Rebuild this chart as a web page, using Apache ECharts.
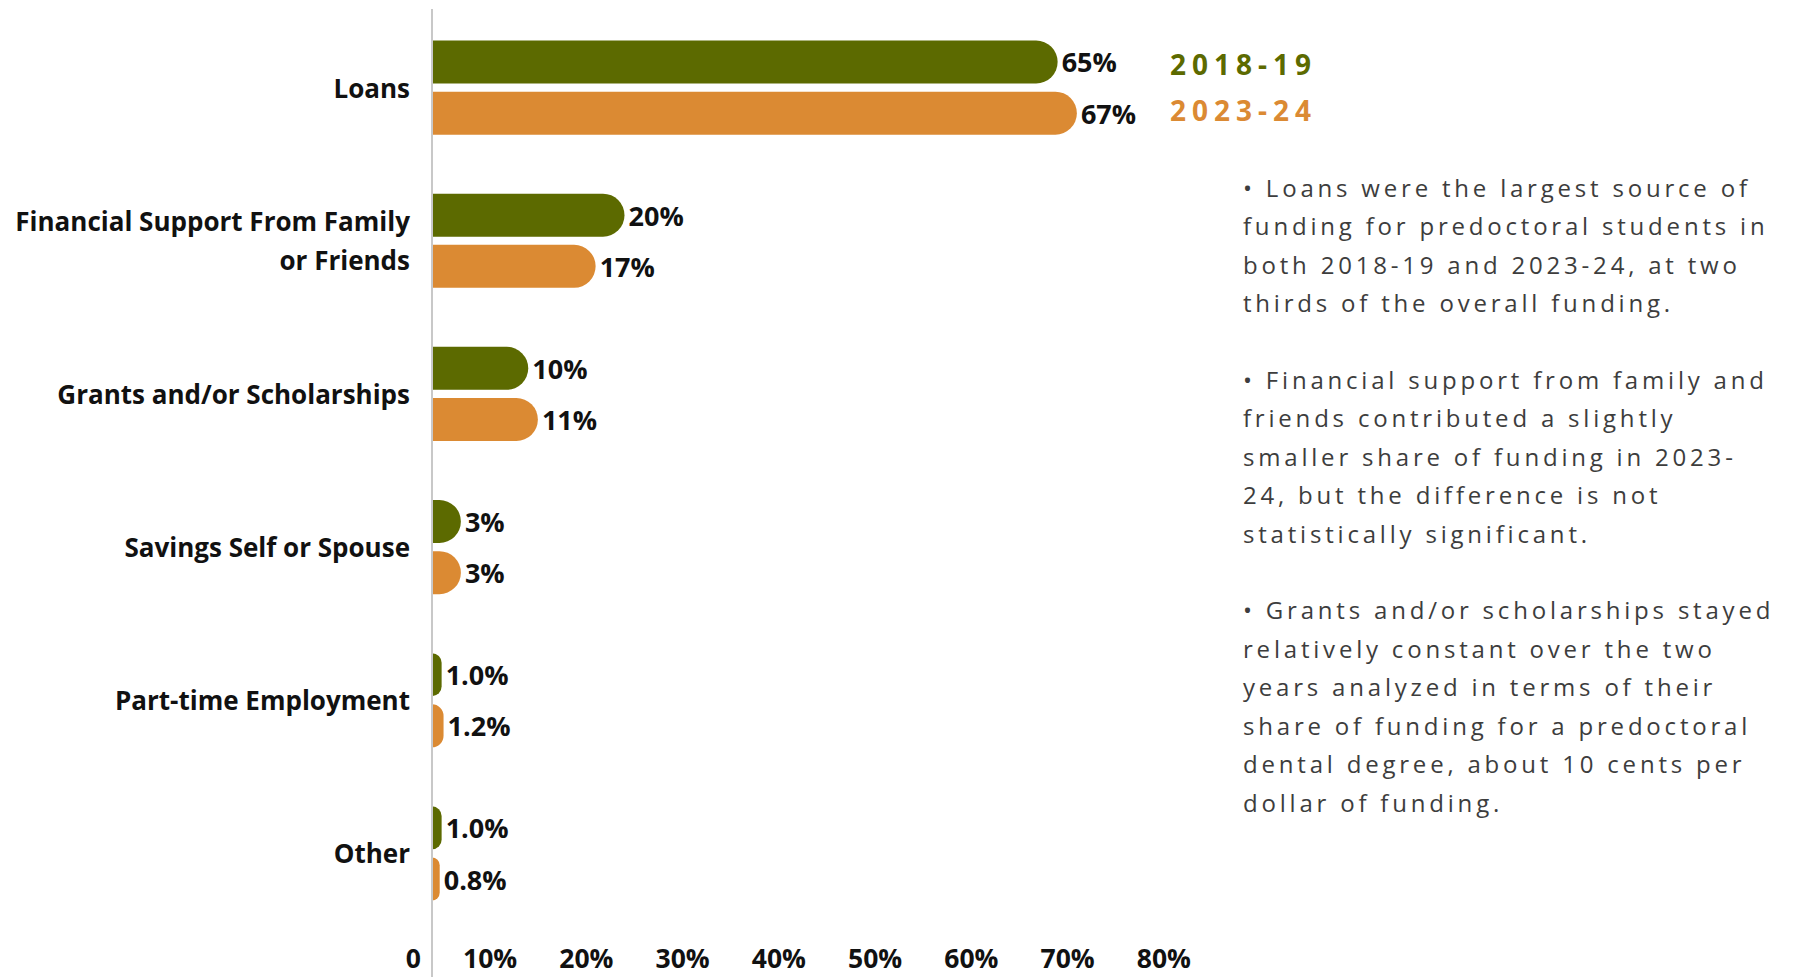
<!DOCTYPE html>
<html>
<head>
<meta charset="utf-8">
<script src="https://cdn.jsdelivr.net/npm/echarts@6/dist/echarts.min.js"></script>
<style>
  html, body { margin: 0; padding: 0; background: #fff; }
  #wrap { position: relative; width: 1797px; height: 977px; }
  #chart { position: absolute; left: 0; top: 0; width: 1797px; height: 977px; }
  #notes {
    position: absolute; left: 1243px; top: 169px;
    font-family: "Open Sans", Lato, sans-serif; font-size: 24px;
    line-height: 38.4px; letter-spacing: 3.8px; color: #3d3d3d;
    white-space: pre;
  }
</style>
</head>
<body>
<div id="wrap">
  <div id="chart"></div>
  <div id="notes"></div>
</div>
<script>
// Funding sources for predoctoral dental students, share of total funding (%)
const categories = [
  'Loans',
  'Financial Support From Family\nor Friends',
  'Grants and/or Scholarships',
  'Savings Self or Spouse',
  'Part-time Employment',
  'Other'
];
const seriesNames = ['2018-19', '2023-24'];
const values2018 = [65, 20, 10, 3, 1.0, 1.0];
const values2023 = [67, 17, 11, 3, 1.2, 0.8];
const axisTicks = [0, 10, 20, 30, 40, 50, 60, 70, 80];

const noteLines = [
  '• Loans were the largest source of',
  'funding for predoctoral students in',
  'both 2018-19 and 2023-24, at two',
  'thirds of the overall funding.',
  '',
  '• Financial support from family and',
  'friends contributed a slightly',
  'smaller share of funding in 2023-',
  '24, but the difference is not',
  'statistically significant.',
  '',
  '• Grants and/or scholarships stayed',
  'relatively constant over the two',
  'years analyzed in terms of their',
  'share of funding for a predoctoral',
  'dental degree, about 10 cents per',
  'dollar of funding.'
];
document.getElementById('notes').textContent = noteLines.join('\n');

const GREEN = '#5c6a00';
const ORANGE = '#db8a33';
const FONT = '"Open Sans", Lato, sans-serif';

function pct(v) {
  return (v >= 2 ? Math.round(v) : v.toFixed(1)) + '%';
}

const chart = echarts.init(document.getElementById('chart'), null, { renderer: 'svg' });

function barSeries(name, data, color) {
  return {
    name: name,
    type: 'bar',
    data: data,
    barWidth: 43,
    barGap: '19%',
    itemStyle: { color: color, borderRadius: [0, 22, 22, 0] },
    label: {
      show: true,
      position: 'right',
      distance: 4,
      formatter: p => pct(p.value),
      fontFamily: FONT,
      fontWeight: 'bold',
      fontSize: 27,
      color: '#111'
    },
    emphasis: { disabled: true }
  };
}

// Spread out the legend lettering (SVG text supports letter-spacing)
function spaceLegend() {
  const texts = document.querySelectorAll('#chart svg text');
  texts.forEach(t => {
    if (seriesNames.indexOf(t.textContent) >= 0) {
      t.setAttribute('letter-spacing', '6');
    }
  });
}
chart.on('finished', spaceLegend);

chart.setOption({
  animation: false,
  grid: { left: 432, top: 11, width: 770, height: 919, containLabel: false },
  legend: {
    orient: 'vertical',
    left: 1160,
    top: 45,
    icon: 'none',
    itemWidth: 0,
    itemHeight: 28,
    itemGap: 18,
    selectedMode: false,
    data: [
      { name: seriesNames[0], textStyle: { color: GREEN } },
      { name: seriesNames[1], textStyle: { color: ORANGE } }
    ],
    textStyle: { fontFamily: FONT, fontWeight: 'bold', fontSize: 28 }
  },
  xAxis: {
    type: 'value',
    min: axisTicks[0],
    max: axisTicks[axisTicks.length - 1],
    interval: 10,
    splitLine: { show: false },
    axisLine: { show: false },
    axisTick: { show: false },
    axisLabel: {
      margin: 14,
      align: 'right',
      padding: [0, 11, 0, 0],
      lineHeight: 27,
      formatter: v => (v === 0 ? '0' : v + '%'),
      fontFamily: FONT,
      fontWeight: 'bold',
      fontSize: 26.5,
      color: '#111'
    }
  },
  yAxis: {
    type: 'category',
    inverse: true,
    data: categories,
    axisLine: { show: false },
    axisTick: { show: false },
    axisLabel: {
      margin: 22,
      fontFamily: FONT,
      fontWeight: 'bold',
      fontSize: 26,
      lineHeight: 39,
      color: '#111',
      align: 'right'
    }
  },
  series: [
    barSeries(seriesNames[0], values2018, GREEN),
    barSeries(seriesNames[1], values2023, ORANGE)
  ]
});

// Vertical baseline at zero, running from the top of the plot to the page bottom
const x0 = chart.convertToPixel({ xAxisIndex: 0 }, 0);
chart.setOption({
  graphic: [{
    type: 'line',
    shape: { x1: x0, y1: 9, x2: x0, y2: 977 },
    style: { stroke: '#c8c8c8', lineWidth: 2 },
    z: 10
  }]
});
setTimeout(spaceLegend, 0);
</script>
</body>
</html>
